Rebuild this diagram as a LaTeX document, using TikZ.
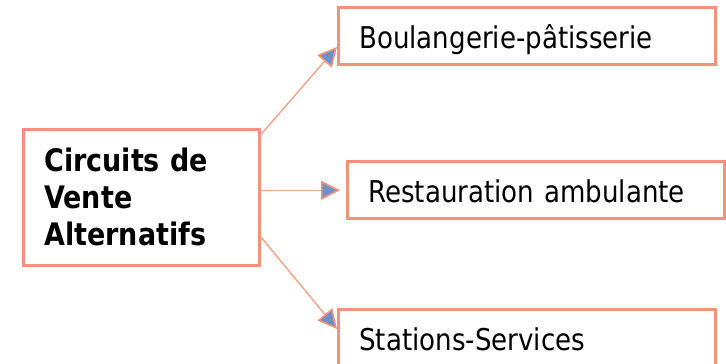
\documentclass[tikz,border=0pt]{standalone}
\usepackage{fontspec}
\setmainfont{DejaVu Sans}[FakeStretch=0.87]
\usetikzlibrary{arrows.meta,calc}
\definecolor{boxline}{HTML}{F0937A}
\definecolor{arrline}{HTML}{F4A68C}
\definecolor{tipblue}{HTML}{6F8FCB}
\tikzset{
  outbox/.style={draw=boxline, line width=2.5pt, minimum width=377pt, inner xsep=21pt, inner ysep=0pt,
    text width=335pt, align=left, text height=41pt, text depth=16pt, font=\fontsize{30}{36}\selectfont},
  mainbox/.style={draw=boxline, line width=2.5pt, minimum width=236pt, minimum height=136pt,
    inner xsep=21pt, inner ysep=0pt, text width=194pt, align=left,
    font=\fontsize{31}{37}\selectfont\bfseries},
  conn/.style={draw=arrline, line width=1.5pt,
    -{Triangle[length=19pt,width=19pt,fill=tipblue,color=boxline,line width=1.6pt]}}
}
\begin{document}
\begin{tikzpicture}[x=1pt,y=-1pt]
\useasboundingbox (0,0) rectangle (726,364);
\node[mainbox, anchor=north west] (main) at (22,128) {Circuits de\\Vente\\Alternatifs};
\node[outbox, anchor=north west] (b1) at (337,6) {Boulangerie-pâtisserie};
\node[outbox, anchor=north west] (b2) at (346,160) {Restauration ambulante};
\node[outbox, anchor=north west, text depth=24pt] (b3) at (337,308) {Stations-Services};
\draw[conn] ($(main.north east)+(0,7)$) -- ($(b1.north west)+(0,41)$);
\draw[conn, shorten >=6pt] ($(main.east |- b2.west)+(0,0.5)$) -- ($(b2.west)+(0,0.5)$);
\draw[conn] ($(main.south east)+(0,-30)$) -- ($(b3.north west)+(0,21)$);
\end{tikzpicture}
\end{document}
